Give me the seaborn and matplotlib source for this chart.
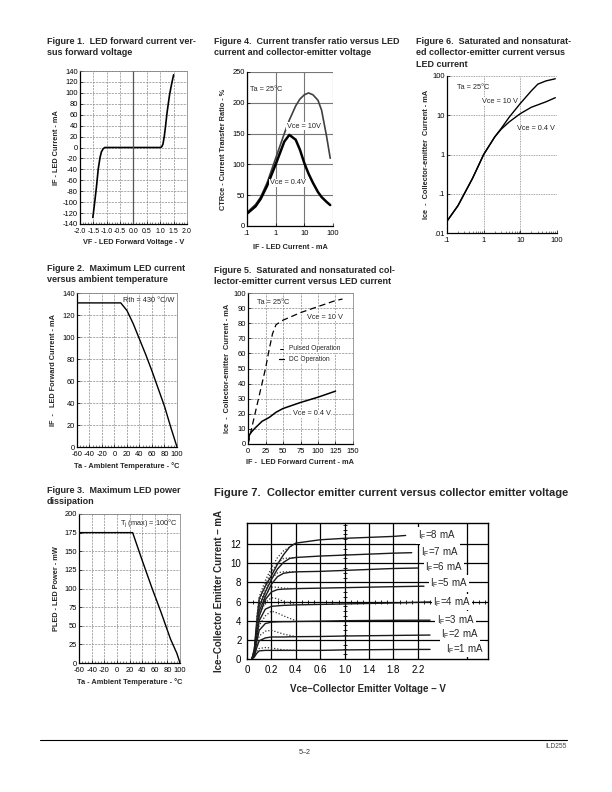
import numpy as np
import pandas as pd
import seaborn as sns
import matplotlib.pyplot as plt

# ---- Figure 1: LED forward current vs forward voltage
vf_1 = [-1.52, -1.45, -1.38, -1.32, -1.25, -1.2, -1.13, -1.07, 0.0,
        1.0, 1.05, 1.1, 1.15, 1.2, 1.25, 1.3, 1.35, 1.4, 1.45, 1.5]
if_1 = [-128, -100, -70, -40, -18, -8, -2, 0, 0,
        0, 1, 6, 20, 40, 62, 80, 97, 110, 122, 133]

# ---- Figure 2: max LED current vs ambient temperature
temp_2 = [-60, 10, 20, 30, 40, 50, 60, 70, 80, 90, 100]
if_2 = [131, 131, 124, 112, 98, 84, 69, 53, 37, 18, 0]

# ---- Figure 3: max LED power dissipation
temp_3 = [-60, 25, 40, 55, 70, 85, 95, 100]
pled_3 = [175, 175, 138, 102, 68, 32, 13, 0]

# ---- Figure 4: CTR vs LED current
if_4 = [0.1, 0.2, 0.3, 0.5, 1, 2, 3, 5, 7, 10, 14, 20, 30, 40, 60, 80]
ctr_10v = [22, 35, 47, 70, 110, 150, 172, 195, 206, 213, 216, 213, 204, 188, 145, 110]
ctr_04v = [20, 32, 44, 65, 100, 137, 148, 140, 124, 102, 85, 70, 55, 47, 39, 34]

# ---- Figure 5: Ice vs IF (linear)
if_5_10v = [0, 10, 20, 25, 30, 35, 40, 50, 60, 75, 100, 125, 135]
ice_5_10v = [0, 20, 40, 50, 62, 73, 79, 82, 84, 87, 91, 95, 96]
if_5_04v = [0, 2, 5, 10, 20, 30, 40, 50, 75, 100, 125]
ice_5_04v = [0, 6, 8, 10.5, 15, 17.5, 21, 23.5, 27.5, 31, 35]

# ---- Figure 6: Ice vs IF (log-log)
if_6_10v = [0.1, 0.2, 0.5, 1, 2, 3, 5, 10, 20, 30, 50, 90]
ice_6_10v = [0.02, 0.05, 0.25, 1, 2.8, 4.6, 9, 20, 42, 62, 75, 85]
if_6_04v = [0.1, 0.2, 0.5, 1, 2, 3, 5, 10, 20, 50, 90]
ice_6_04v = [0.02, 0.05, 0.25, 1, 2.8, 4.4, 6.8, 11, 16, 22, 28]

# ---- Figure 7: Ice vs Vce for IF = 1..8 mA
if_7 = [8, 7, 6, 5, 4, 3, 2, 1]
vce_7 = [0.04, 0.06, 0.08, 0.1, 0.15, 0.2, 0.25, 0.3, 0.35, 0.4, 0.6, 1.0, 1.4, 1.8]
ice_if8 = [0, 1, 4, 6.3, 7.6, 8.7, 9.9, 10.9, 11.7, 12.1, 12.45, 12.6, 12.7, 12.8]
ice_if7 = [0, 1, 3.5, 5.5, 7.0, 8.3, 9.4, 10.1, 10.5, 10.6, 10.75, 10.85, 10.95, 11.05]
ice_if6 = [0, 0.8, 3, 5, 6.5, 7.8, 8.6, 8.95, 9.05, 9.1, 9.15, 9.25, 9.35, 9.45]
ice_if5 = [0, 0.6, 2.5, 4.5, 6.2, 7.0, 7.25, 7.3, 7.32, 7.35, 7.4, 7.45, 7.5, 7.55]
ice_if4 = [0, 0.5, 2.2, 4.0, 5.2, 5.5, 5.55, 5.6, 5.62, 5.65, 5.7, 5.75, 5.8, 5.85]
ice_if3 = [0, 0.4, 1.8, 3.0, 3.7, 3.85, 3.88, 3.9, 3.9, 3.92, 3.95, 4.0, 4.02, 4.04]
ice_if2 = [0, 0.3, 1.2, 1.9, 2.2, 2.3, 2.3, 2.3, 2.32, 2.33, 2.35, 2.4, 2.43, 2.46]
ice_if1 = [0, 0.2, 0.6, 0.85, 0.9, 0.9, 0.9, 0.9, 0.9, 0.9, 0.9, 0.95, 0.97, 0.99]
vce_7_end = [2.0, 2.1, 2.2, 2.3, 2.4, 2.4, 2.4, 2.4]
ice_7_end = [12.9, 11.1, 9.5, 7.6, 5.95, 4.05, 2.5, 1.0]
# dotted (pulsed) curves
vce_7_dot = [0.08, 0.1, 0.15, 0.2, 0.25, 0.3, 0.4]
dot_if8 = [4.4, 6.5, 8.2, 9.5, 10.6, 11.3, 12.1]
dot_if7 = [4.0, 6.0, 7.8, 9.1, 10.0, 10.5, 10.6]
dot_if6 = [3.6, 5.6, 7.2, 8.4, 9.0, 9.1, 9.1]
dot_if5 = [3.3, 5.0, 6.7, 7.5, 7.5, 7.4, 7.35]
dot_if4 = [3.0, 4.5, 5.9, 6.4, 6.3, 6.0, 5.7]
dot_if3 = [2.4, 3.5, 4.5, 5.0, 4.8, 4.5, 4.0]
dot_if2 = [1.6, 2.4, 2.9, 3.0, 2.8, 2.6, 2.35]
dot_if1 = [0.8, 1.1, 1.2, 1.15, 1.05, 0.95, 0.9]
label_x_7 = [2.2, 2.25, 2.32, 2.4, 2.45, 2.51, 2.58, 2.66]
label_y_7 = [12.9, 11.2, 9.6, 7.9, 5.95, 4.1, 2.6, 1.05]
xticks_7 = [0, 0.2, 0.4, 0.6, 1.0, 1.4, 1.8, 2.2]

sns.set_theme(style='ticks')
plt.rcParams['font.family'] = ['Liberation Sans', 'DejaVu Sans']
plt.rcParams['mathtext.fontset'] = 'custom'
plt.rcParams['mathtext.rm'] = 'Liberation Sans'
plt.rcParams['mathtext.it'] = 'Liberation Sans'
plt.rcParams['axes.unicode_minus'] = False

W, H = 612, 792
fig = plt.figure(figsize=(W / 100, H / 100), dpi=100)
fig.patch.set_facecolor('white')


def px_axes(l, t, r, b):
    return fig.add_axes([l / W, 1 - b / H, (r - l) / W, (b - t) / H])


def title(x, y, s, size=6.5):
    fig.text(x / W, 1 - y / H, s, fontsize=size, fontweight='bold', va='top', linespacing=1.35)


def small_style(ax, dashed=True):
    ax.set_facecolor('white')
    for side in ['left', 'bottom']:
        ax.spines[side].set_linewidth(0.9)
        ax.spines[side].set_color('black')
    for side in ['top', 'right']:
        ax.spines[side].set_linewidth(0.5)
        ax.spines[side].set_color('#777777')
    ax.tick_params(labelsize=5.4, length=2, width=0.5, direction='in', pad=1.5, colors='black')
    ax.tick_params(axis='x', pad=3)
    ax.tick_params(which='minor', length=1.5, width=0.4, direction='in')
    if dashed:
        ax.grid(True, color='#888888', lw=0.5, ls=(0, (3, 1.5)))
    ax.xaxis.label.set_size(5.3)
    ax.yaxis.label.set_size(5.3)
    ax.xaxis.label.set_weight('bold')
    ax.yaxis.label.set_weight('bold')


# ---------------- Figure 1
title(47, 37, 'Figure 1.  LED forward current ver-\nsus forward voltage')
ax1 = px_axes(80, 71, 187, 224)
sns.lineplot(x=vf_1, y=if_1, ax=ax1, color='black', lw=1.2, sort=False)
ax1.set_xlim(-2, 2)
ax1.set_ylim(-140, 140)
ax1.set_xticks(np.arange(-2, 2.01, 0.5))
ax1.set_xticklabels(['-2.0', '-1.5', '-1.0', '-0.5', '0.0', '0.5', '1.0', '1.5', '2.0'])
ax1.set_xticks(np.arange(-2, 2.01, 0.1), minor=True)
ax1.set_yticks(np.arange(-140, 141, 20))
small_style(ax1)
ax1.tick_params(axis='x', labelsize=5.0)
ax1.axvline(0, color='#555555', lw=0.9)
ax1.set_xlabel('VF - LED Forward Voltage - V', labelpad=3)
ax1.set_ylabel('IF - LED Current - mA', labelpad=2)

# ---------------- Figure 2
title(47, 264, 'Figure 2.  Maximum LED current\nversus ambient temperature')
ax2 = px_axes(77, 293, 177, 447)
sns.lineplot(x=temp_2, y=if_2, ax=ax2, color='black', lw=1.0)
ax2.set_xlim(-60, 100)
ax2.set_ylim(0, 140)
ax2.set_xticks(np.arange(-60, 101, 20))
ax2.set_xticks(np.arange(-60, 101, 5), minor=True)
ax2.set_yticks(np.arange(0, 141, 20))
small_style(ax2)
ax2.text(14, 133, 'Rth = 430 °C/W', fontsize=5.3, va='center')
ax2.set_xlabel('Ta - Ambient Temperature - °C', labelpad=3)
ax2.set_ylabel('IF  -   LED Forward Current - mA', labelpad=4)

# ---------------- Figure 3
title(47, 486, 'Figure 3.  Maximum LED power\ndissipation')
ax3 = px_axes(79, 514, 180, 663)
sns.lineplot(x=temp_3, y=pled_3, ax=ax3, color='black', lw=1.0)
ax3.set_xlim(-60, 100)
ax3.set_ylim(0, 200)
ax3.set_xticks(np.arange(-60, 101, 20))
ax3.set_xticks(np.arange(-60, 101, 5), minor=True)
ax3.set_yticks(np.arange(0, 201, 25))
small_style(ax3)
ax3.text(5, 188, r'T$_\mathrm{j}$ (max) = 100°C', fontsize=5.3, va='center')
ax3.set_xlabel('Ta - Ambient Temperature - °C', labelpad=3)
ax3.set_ylabel('PLED - LED Power - mW', labelpad=3)

# ---------------- Figure 4
title(214, 37, 'Figure 4.  Current transfer ratio versus LED\ncurrent and collector-emitter voltage')
ax4 = px_axes(247, 72, 333, 226)
sns.lineplot(x=if_4, y=ctr_10v, ax=ax4, color='#404040', lw=1.2)
sns.lineplot(x=if_4, y=ctr_04v, ax=ax4, color='black', lw=1.8)
ax4.set_xscale('log')
ax4.set_xlim(0.1, 100)
ax4.set_ylim(0, 250)
ax4.set_xticks([0.1, 1, 10, 100])
ax4.set_xticklabels(['.1', '1', '10', '100'])
ax4.set_yticks(np.arange(0, 251, 50))
small_style(ax4, dashed=False)
ax4.xaxis.set_minor_locator(plt.NullLocator())
ax4.spines['top'].set_visible(False)
ax4.spines['right'].set_visible(False)
ax4.grid(True, color='#777777', lw=0.8)
ax4.text(0.13, 222, 'Ta = 25°C', fontsize=5.3, va='center')
ax4.text(2.5, 162, 'Vce = 10V', fontsize=5.3, va='center',
         bbox=dict(fc='white', ec='none', pad=0.5))
ax4.text(0.63, 70, 'Vce = 0.4V', fontsize=5.3, va='center',
         bbox=dict(fc='white', ec='none', pad=0.5))
ax4.set_xlabel('IF - LED Current - mA', labelpad=5)
ax4.set_ylabel('CTRce - Current Transfer Ratio - %', labelpad=4)

# ---------------- Figure 5
title(214, 266, 'Figure 5.  Saturated and nonsaturated col-\nlector-emitter current versus LED current')
ax5 = px_axes(248, 293, 353, 444)
sns.lineplot(x=if_5_10v, y=ice_5_10v, ax=ax5, color='black', lw=0.9, dashes=False)
ax5.lines[-1].set_linestyle((0, (5, 3)))
sns.lineplot(x=if_5_04v, y=ice_5_04v, ax=ax5, color='black', lw=1.1)
ax5.set_xlim(0, 150)
ax5.set_ylim(0, 100)
ax5.set_xticks(np.arange(0, 151, 25))
ax5.set_yticks(np.arange(0, 101, 10))
small_style(ax5)
ax5.text(13, 94, 'Ta = 25°C', fontsize=5.3, va='center')
ax5.text(84, 84, 'Vce = 10 V', fontsize=5.3, va='center',
         bbox=dict(fc='white', ec='none', pad=0.5))
ax5.plot([46, 50], [63, 63], color='black', lw=0.7)
ax5.text(58, 63, 'Pulsed Operation', fontsize=4.8, va='center',
         bbox=dict(fc='white', ec='none', pad=0.3))
ax5.plot([44, 52], [56, 56], color='black', lw=0.9)
ax5.text(58, 56, 'DC Operation', fontsize=4.8, va='center',
         bbox=dict(fc='white', ec='none', pad=0.3))
ax5.text(64, 20, 'Vce = 0.4 V', fontsize=5.3, va='center',
         bbox=dict(fc='white', ec='none', pad=0.5))
ax5.set_xlabel('IF -  LED Forward Current - mA', labelpad=3)
ax5.set_ylabel('Ice  -  Collector-emitter  Current - mA', labelpad=2)

# ---------------- Figure 6
title(416, 37, 'Figure 6.  Saturated and nonsaturat-\ned collector-emitter current versus\nLED current')
ax6 = px_axes(447, 76, 557, 233)
sns.lineplot(x=if_6_10v, y=ice_6_10v, ax=ax6, color='black', lw=1.0)
sns.lineplot(x=if_6_04v, y=ice_6_04v, ax=ax6, color='black', lw=1.0)
ax6.set_xscale('log')
ax6.set_yscale('log')
ax6.set_xlim(0.1, 100)
ax6.set_ylim(0.01, 100)
ax6.set_xticks([0.1, 1, 10, 100])
ax6.set_xticklabels(['.1', '1', '10', '100'])
ax6.set_yticks([0.01, 0.1, 1, 10, 100])
ax6.set_yticklabels(['.01', '.1', '1', '10', '100'])
small_style(ax6, dashed=False)
ax6.yaxis.set_minor_locator(plt.NullLocator())
ax6.spines['top'].set_visible(False)
ax6.spines['right'].set_visible(False)
ax6.grid(True, which='major', color='#888888', lw=0.6, ls=(0, (1, 1)))
ax6.text(0.19, 52, 'Ta = 25°C', fontsize=5.3, va='center')
ax6.text(0.9, 23, 'Vce = 10 V', fontsize=5.3, va='center',
         bbox=dict(fc='white', ec='none', pad=0.3))
ax6.text(8.1, 4.7, 'Vce = 0.4 V', fontsize=5.3, va='center')
ax6.set_ylabel('Ice  -  Collector-emitter  Current - mA', labelpad=2)

# ---------------- Figure 7
title(214, 488, 'Figure 7.  Collector emitter current versus collector emitter voltage', size=8.0)


def v_fwd(v):
    v = np.asarray(v, dtype=float)
    return np.where(v <= 0.6, v / 0.2, 3 + (v - 0.6) / 0.4)


def v_inv(u):
    u = np.asarray(u, dtype=float)
    return np.where(u <= 3, u * 0.2, 0.6 + (u - 3) * 0.4)


ax7 = px_axes(247, 523, 488, 659)
ax7.set_xscale('function', functions=(v_fwd, v_inv))
ax7.set_xlim(0, 3.35)
ax7.set_ylim(0, 14.2)
ax7.set_facecolor('white')
for s in ax7.spines.values():
    s.set_linewidth(1.0)
    s.set_color('black')
ax7.set_xticks(xticks_7)
ax7.set_xticklabels(['0', '0.2', '0.4', '0.6', '1.0', '1.4', '1.8', '2.2'])
ax7.set_yticks(np.arange(0, 13, 2))
ax7.xaxis.set_minor_locator(plt.NullLocator())
ax7.tick_params(length=0, labelsize=7, pad=4, colors='black')
for v in xticks_7[1:] + [3.0]:
    ax7.axvline(v, color='black', lw=0.9, zorder=1)
for y in range(2, 13, 2):
    ax7.axhline(y, color='black', lw=0.9, zorder=1)
# little crosses on the 6 mA and 1.0 V lines
u_marks = np.arange(0.25, 9.9, 0.25)
ax7.plot(v_inv(u_marks), np.full(len(u_marks), 6.0), ls='none', marker='|',
         ms=3, mew=0.6, color='black')
y_marks = np.arange(0.5, 14.2, 0.5)
ax7.plot(np.full(len(y_marks), 1.0), y_marks, ls='none', marker='_',
         ms=3, mew=0.6, color='black')

solid_7 = [ice_if8, ice_if7, ice_if6, ice_if5, ice_if4, ice_if3, ice_if2, ice_if1]
dotted_7 = [dot_if8, dot_if7, dot_if6, dot_if5, dot_if4, dot_if3, dot_if2, dot_if1]
rows = []
for i, f in enumerate(if_7):
    for v, c in zip(vce_7 + [vce_7_end[i]], solid_7[i] + [ice_7_end[i]]):
        rows.append({'vce': v, 'ice': c, 'IF': f})
df7 = pd.DataFrame(rows)
sns.lineplot(data=df7, x='vce', y='ice', units='IF', estimator=None, ax=ax7,
             color='#1a1a1a', lw=1.0, zorder=3)
for i, f in enumerate(if_7):
    sns.lineplot(x=vce_7_dot, y=dotted_7[i], ax=ax7, color='#333333', lw=0.9, zorder=3)
    ax7.lines[-1].set_linestyle((0, (1, 1.5)))
    ax7.text(label_x_7[i], label_y_7[i], r'I$_\mathrm{F}$=%d mA' % f, fontsize=7,
             va='center', zorder=5, bbox=dict(fc='white', ec='none', pad=1.0))
ax7.set_xlabel('Vce–Collector Emitter Voltage – V', fontsize=7, fontweight='bold', labelpad=7)
ax7.set_ylabel('Ice–Collector Emitter Current – mA', fontsize=7, fontweight='bold', labelpad=5)

# ---------------- footer
fig.add_artist(plt.Line2D([40 / W, 567 / W], [1 - 740 / H, 1 - 740 / H], color='black', lw=0.8))
fig.text(567 / W, 1 - 743 / H, 'ILD255', fontsize=4.8, color='#444444', ha='right', va='top')
fig.text(305 / W, 1 - 749 / H, '5–2', fontsize=5.2, color='#333333', ha='center', va='top')

fig.savefig('out.png', dpi=100, facecolor='white')
